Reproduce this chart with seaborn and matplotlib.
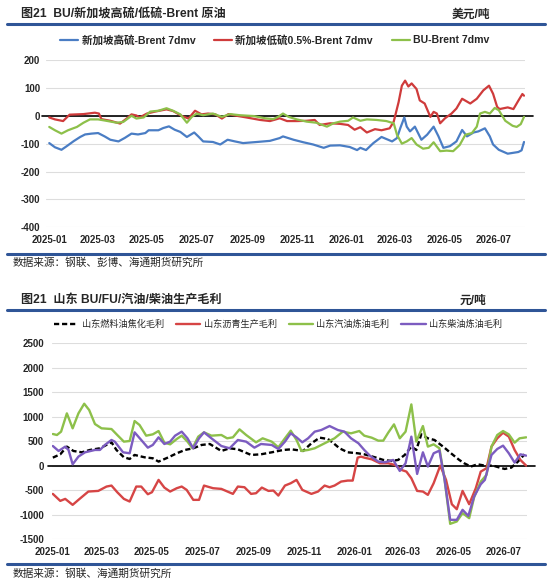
import matplotlib
matplotlib.use('Agg')
import matplotlib.pyplot as plt
import matplotlib.dates as mdates
from matplotlib.lines import Line2D
import pandas as pd
import seaborn as sns

# ---- top panel: BU / Singapore HSFO / LSFO minus Brent (USD/t), 7dmv ----
top_title = '图21  BU/新加坡高硫/低硫-Brent 原油'
top_unit = '美元/吨'
top_source = '数据来源：钢联、彭博、海通期货研究所'
top_names = ['新加坡高硫-Brent 7dmv', '新加坡低硫0.5%-Brent 7dmv', 'BU-Brent 7dmv']

# days counted from 2025-01-01
hs_days = [0, 7, 15, 21, 30, 38, 44, 52, 60, 68, 75, 85, 93, 101, 109, 118, 122, 134, 140, 147,
           154, 161, 169, 178, 183, 189, 201, 210, 219, 228, 238, 255, 271, 283, 287, 300, 312, 324,
           337, 345, 357, 369, 378, 382, 389, 398, 408, 421, 427, 431, 436, 439, 443, 449, 457, 464,
           472, 478, 484, 492, 500, 507, 513, 521, 527, 535, 541, 545, 552, 563, 576, 580, 583]
hs_vals = [-98, -113, -122, -110, -91, -76, -67, -64, -62, -74, -86, -92, -79, -64, -67, -62, -52,
           -52, -44, -38, -50, -58, -76, -60, -74, -92, -94, -103, -86, -92, -98, -94, -90, -80, -74,
           -86, -95, -103, -115, -107, -106, -112, -123, -115, -123, -98, -76, -92, -80, -45, -6, -39,
           -56, -39, -86, -68, -39, -74, -115, -109, -92, -51, -74, -60, -56, -45, -74, -103, -122,
           -136, -130, -124, -94]

ls_days = [0, 7, 17, 25, 42, 56, 61, 64, 75, 87, 95, 101, 107, 111, 120, 130, 144, 152, 163, 171,
           179, 187, 195, 204, 212, 220, 230, 242, 259, 271, 283, 292, 304, 316, 326, 332, 345, 357,
           367, 375, 382, 390, 400, 408, 418, 423, 429, 433, 437, 441, 445, 451, 455, 461, 468, 472,
           476, 480, 486, 494, 500, 507, 517, 525, 533, 540, 545, 550, 553, 563, 570, 576, 581, 583]
ls_vals = [-6, -13, -19, 4, 6, 11, 8, -12, -18, -28, -10, 5, 1, -6, 8, 15, 23, 17, -1, -10, 18, 5,
           8, 5, -10, 6, 0, -6, -15, -19, -9, -19, -19, -18, -15, -33, -27, -29, -33, -50, -41, -60,
           -48, -52, -45, -21, 49, 108, 126, 105, 116, 96, 55, 44, -4, 14, 8, -27, -9, 8, 26, 61, 44,
           61, 91, 108, 79, 32, 24, 30, 24, 54, 78, 72]

bu_days = [0, 7, 15, 23, 34, 42, 50, 60, 70, 83, 91, 101, 107, 116, 124, 134, 144, 152, 161, 169,
           175, 181, 189, 201, 212, 222, 234, 251, 265, 275, 281, 287, 294, 304, 316, 328, 341, 349,
           357, 367, 373, 382, 390, 402, 414, 423, 427, 433, 439, 445, 451, 459, 466, 472, 480, 488,
           496, 504, 511, 519, 525, 529, 535, 541, 547, 552, 560, 569, 574, 579, 583]
bu_vals = [-40, -52, -64, -52, -40, -25, -13, -13, -18, -25, -22, 0, -10, -6, 15, 18, 27, 18, 5,
           -25, -4, 8, 2, 8, -4, 6, 2, -1, -9, -12, -4, 8, -4, -13, -21, -25, -39, -27, -21, -18, -6,
           -18, -13, -15, -19, -27, -68, -100, -92, -80, -103, -118, -115, -95, -127, -125, -127,
           -105, -68, -62, -39, 8, 14, 8, 28, 20, -18, -36, -40, -30, -4]

# ---- bottom panel: Shandong margins (CNY/t), weekly ----
bot_title = '图21  山东 BU/FU/汽油/柴油生产毛利'
bot_unit = '元/吨'
bot_source = '数据来源：钢联、海通期货研究所'
bot_names = ['山东燃料油焦化毛利', '山东沥青生产毛利', '山东汽油炼油毛利', '山东柴油炼油毛利']

fu_days = [0, 9, 17, 25, 35, 45, 57, 71, 77, 86, 93, 99, 111, 121, 128, 140, 150, 160, 170, 180,
           190, 204, 214, 224, 240, 252, 265, 279, 289, 303, 313, 323, 333, 339, 347, 357, 369, 377,
           390, 400, 410, 418, 426, 434, 440, 446, 454, 462, 474, 482, 492, 498, 506, 514, 523, 533,
           541, 547, 555, 563, 571]
fu_vals = [163, 231, 388, 299, 272, 320, 354, 476, 320, 170, 136, 218, 170, 150, 82, 170, 252, 320,
           354, 422, 442, 299, 354, 333, 218, 231, 272, 320, 333, 299, 456, 571, 544, 469, 354, 272,
           252, 231, 170, 116, 95, 116, 218, 388, 320, 639, 558, 524, 367, 252, 116, 48, -20, 27, 0,
           0, -41, -68, -41, 82, 231]

asp_days = [0, 9, 15, 24, 31, 43, 55, 65, 71, 78, 86, 93, 101, 107, 115, 120, 128, 135, 142, 150,
            156, 162, 170, 177, 183, 194, 204, 218, 224, 232, 240, 246, 253, 261, 267, 273, 281,
            288, 295, 302, 313, 321, 329, 335, 341, 349, 357, 363, 369, 373, 377, 386, 396, 406,
            414, 422, 428, 434, 441, 448, 454, 461, 469, 476, 483, 489, 496, 504, 512, 518, 525,
            531, 538, 545, 552, 559, 566, 573]
asp_vals = [-578, -721, -680, -802, -700, -530, -517, -428, -408, -544, -680, -734, -428, -428,
            -585, -544, -292, -449, -530, -462, -428, -496, -700, -700, -408, -462, -476, -578,
            -428, -442, -578, -564, -449, -517, -510, -612, -408, -360, -292, -496, -578, -530,
            -408, -442, -408, -326, -306, -306, 163, 184, 163, 129, 48, 48, 14, -88, -122, -258,
            -517, -530, -598, -360, 0, -292, -789, -891, -517, -789, -462, -122, -54, 388, 558,
            673, 592, 320, 116, 0]

gas_days = [0, 5, 10, 17, 24, 31, 38, 44, 51, 59, 71, 78, 86, 93, 99, 105, 113, 121, 128, 135,
            142, 150, 156, 163, 169, 176, 183, 192, 204, 211, 218, 226, 234, 246, 254, 265, 273,
            281, 288, 295, 301, 309, 317, 329, 341, 351, 361, 371, 377, 386, 394, 400, 406, 413,
            420, 427, 434, 440, 448, 454, 461, 468, 474, 481, 489, 496, 504, 510, 518, 525, 531,
            538, 545, 552, 559, 565, 573]
gas_vals = [646, 626, 694, 1068, 762, 1068, 1265, 1136, 850, 762, 748, 626, 490, 503, 911, 830,
            612, 639, 707, 469, 435, 544, 612, 490, 354, 592, 680, 612, 626, 558, 578, 741, 626,
            476, 558, 490, 374, 558, 714, 524, 299, 320, 354, 456, 558, 694, 660, 707, 612, 571,
            510, 510, 673, 843, 558, 694, 1251, 490, 809, 388, 435, 354, -258, -1190, -1142, -972,
            -1074, -646, -326, -190, 388, 626, 707, 639, 469, 558, 578]

dsl_days = [0, 7, 15, 19, 24, 31, 39, 51, 57, 63, 71, 75, 85, 93, 99, 107, 115, 121, 128, 135,
            142, 148, 156, 163, 170, 177, 183, 192, 204, 214, 224, 234, 244, 252, 265, 273, 281,
            288, 295, 302, 309, 317, 325, 335, 345, 353, 361, 370, 377, 384, 394, 402, 412, 420,
            427, 434, 441, 448, 454, 461, 468, 474, 481, 489, 496, 503, 510, 518, 523, 531, 538,
            545, 552, 559, 566, 573]
dsl_vals = [401, 299, 388, 320, 27, 184, 272, 320, 320, 422, 524, 490, 272, 252, 680, 524, 367,
            422, 578, 442, 490, 612, 694, 558, 354, 558, 680, 558, 401, 354, 524, 490, 367, 442,
            422, 340, 490, 660, 578, 476, 558, 694, 728, 809, 728, 694, 558, 456, 320, 200, 82, 68,
            116, -109, 48, 592, -170, 272, -20, 252, 306, -258, -1108, -1108, -904, -1027, -632,
            -381, -292, 218, 340, 408, 252, 61, 231, 204]

base = pd.Timestamp('2025-01-01')


def to_dates(days):
    return base + pd.to_timedelta(days, unit='D')


W, H = 550, 584
sns.set_style('white')
plt.rcParams['font.family'] = ['Liberation Sans', 'Noto Sans CJK SC']
plt.rcParams['axes.unicode_minus'] = False

fig = plt.figure(figsize=(W / 100, H / 100), dpi=100)


def fx(px):
    return px / W


def fy(py):
    return 1 - py / H


def rule(py):
    fig.add_artist(Line2D([fx(7), fx(545)], [fy(py), fy(py)], transform=fig.transFigure,
                          color='#2F5597', lw=2.2))


def style_axes(ax, ylim, yticks, xlim, ypad):
    ax.set_ylim(*ylim)
    ax.set_yticks(yticks)
    ax.set_xlim(*xlim)
    ax.xaxis.set_major_locator(mdates.MonthLocator(bymonth=[1, 3, 5, 7, 9, 11]))
    ax.xaxis.set_major_formatter(mdates.DateFormatter('%Y-%m'))
    ax.grid(axis='y', color='#DDDDDD', lw=0.8)
    ax.grid(axis='x', visible=False)
    for s in ax.spines.values():
        s.set_visible(False)
    ax.tick_params(axis='y', length=0, pad=ypad, labelsize=7)
    ax.tick_params(axis='x', length=0, pad=5.5, labelsize=7)
    for lab in ax.get_xticklabels() + ax.get_yticklabels():
        lab.set_fontweight('bold')
    ax.axhline(0, xmin=-0.009, xmax=1.017, clip_on=False, color='black', lw=1.2, zorder=1.5)
    ax.set_xlabel('')
    ax.set_ylabel('')


# ---- top chart ----
ax1 = fig.add_axes([fx(46), fy(227.3), fx(524.5) - fx(46), fy(60) - fy(227.3)])
top_colors = ['#4A7DC4', '#CF3B3B', '#8DC04A']
for days, vals, name, c in zip([hs_days, ls_days, bu_days], [hs_vals, ls_vals, bu_vals],
                               top_names, top_colors):
    sns.lineplot(x=to_dates(days), y=vals, ax=ax1, color=c, lw=1.6, label=name, zorder=3)
ax1.get_legend().remove()
style_axes(ax1, (-400, 200), range(-400, 201, 100),
           (base + pd.Timedelta(days=-4), base + pd.Timedelta(days=583.6)), 4.3)
h1, l1 = ax1.get_legend_handles_labels()
fig.legend(h1, l1, loc='center', bbox_to_anchor=(fx(275), fy(40)), ncol=3, frameon=False,
           handlelength=1.7, handletextpad=0.3, columnspacing=1.8,
           prop={'size': 7.6, 'weight': 'bold'})

fig.text(fx(21), fy(15), top_title, fontsize=8.7, fontweight='bold', va='center', ha='left')
fig.text(fx(490), fy(15), top_unit, fontsize=8.5, fontweight='bold', va='center', ha='right')
rule(23.5)
rule(253.5)
fig.text(fx(13), fy(262), top_source, fontsize=7.7, va='center', ha='left')

# ---- bottom chart ----
ax2 = fig.add_axes([fx(52), fy(539), fx(527) - fx(52), fy(343.3) - fy(539)])
bot_colors = ['black', '#D64545', '#8DC04A', '#7C5CC0']
bot_data = [(fu_days, fu_vals), (asp_days, asp_vals), (gas_days, gas_vals), (dsl_days, dsl_vals)]
for (days, vals), name, c in zip(bot_data, bot_names, bot_colors):
    ls = '--' if c == 'black' else '-'
    sns.lineplot(x=to_dates(days), y=vals, ax=ax2, color=c, lw=1.7, label=name, linestyle=ls,
                 zorder=3)
ax2.lines[0].set_dashes((2.2, 1.2))
ax2.get_legend().remove()
style_axes(ax2, (-1500, 2500), range(-1500, 2501, 500),
           (base + pd.Timedelta(days=-1), base + pd.Timedelta(days=574)), 5.8)
h2, l2 = ax2.get_legend_handles_labels()
fig.legend(h2, l2, loc='center', bbox_to_anchor=(fx(278), fy(324.5)), ncol=4, frameon=False,
           handlelength=2.7, handletextpad=0.35, columnspacing=1.3, prop={'size': 6.6})

fig.text(fx(21), fy(300.5), bot_title, fontsize=8.7, fontweight='bold', va='center', ha='left')
fig.text(fx(486), fy(300.5), bot_unit, fontsize=8.5, fontweight='bold', va='center', ha='right')
rule(310)
rule(564)
fig.text(fx(13), fy(573.5), bot_source, fontsize=7.7, va='center', ha='left')

fig.savefig('out.png', dpi=100)
